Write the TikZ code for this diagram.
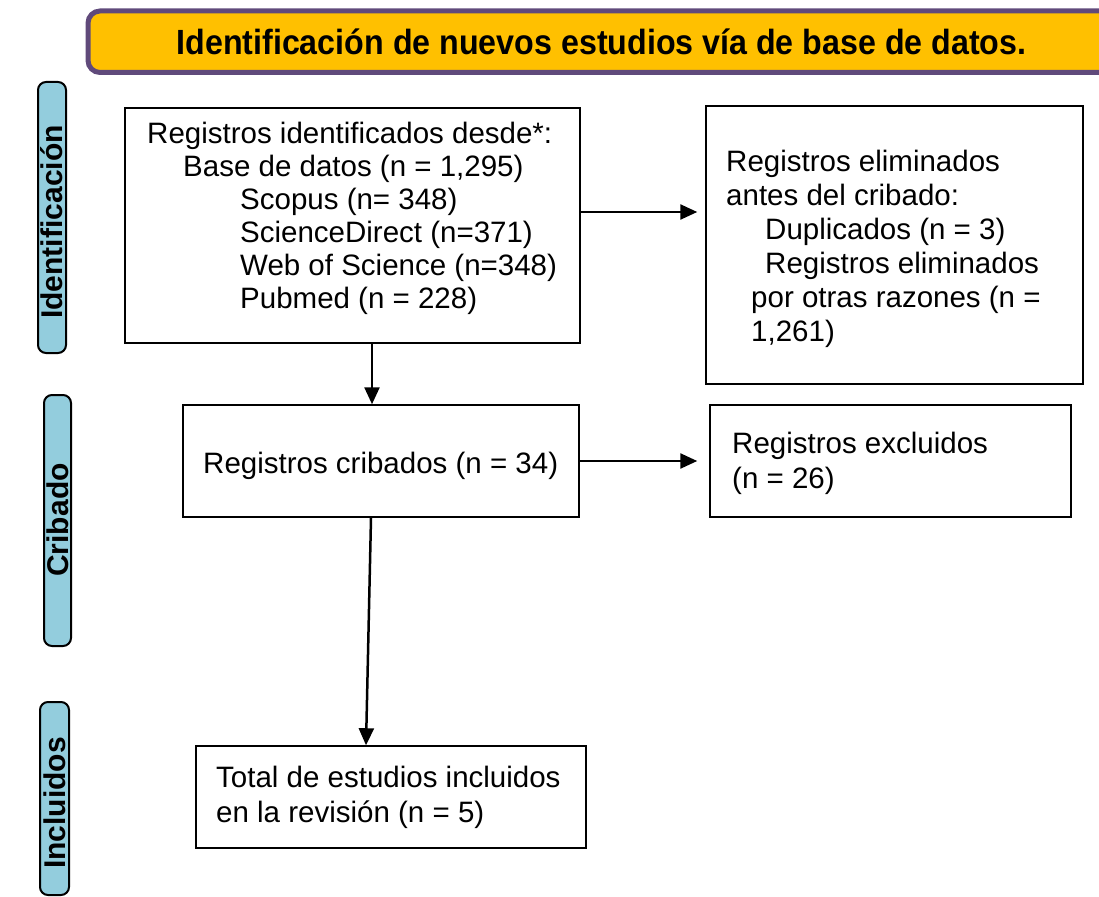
\documentclass[tikz,border=0pt]{standalone}
\usepackage{fontspec}
\setmainfont{Liberation Sans}
\usetikzlibrary{arrows.meta}
\definecolor{hdrfill}{HTML}{FFC000}
\definecolor{hdrline}{HTML}{604A7B}
\definecolor{sidefill}{HTML}{93CDDD}
\tikzset{
  flowbox/.style={draw=black, line width=1.5pt, rectangle, inner sep=0pt, fill=white},
  boxtext/.style={anchor=north west, inner sep=0pt, align=left, font=\fontsize{29.5}{33}\selectfont},
  sidebox/.style={draw=black, line width=2pt, fill=sidefill, rounded corners=8pt, inner sep=0pt},
  sidetext/.style={rotate=90, font=\bfseries\fontsize{30}{30}\selectfont, inner sep=0pt},
  arr/.style={line width=2.5pt, -{Triangle[length=17pt,width=15pt]}},
}
\begin{document}
\begin{tikzpicture}[x=1pt,y=-1pt]
\useasboundingbox (0,0) rectangle (1099,896);
% header
\node[draw=hdrline, line width=5pt, fill=hdrfill, rounded corners=12pt,
      minimum width=1027pt, minimum height=61.5pt, inner sep=0pt] (hdr) at (601.5,41.75)
  {\bfseries\fontsize{35}{35}\selectfont\scalebox{0.92}[1]{Identificación de nuevos estudios vía de base de datos.}};
% side labels
\node[sidebox, minimum width=28pt, minimum height=271pt] (s1) at (52,217.5) {};
\node[sidetext] (s1t) at (52,222) {Identificación};
\node[sidebox, minimum width=27pt, minimum height=251pt] (s2) at (57.5,520.5) {};
\node[sidetext] (s2t) at (57.5,520) {Cribado};
\node[sidebox, minimum width=29pt, minimum height=193pt] (s3) at (54.5,798.5) {};
\node[sidetext] (s3t) at (54.5,803) {Incluidos};
% boxes
\node[flowbox, minimum width=455pt, minimum height=235pt] (b1) at (352.5,225.5) {};
\node[boxtext] (b1t) at (147,122) {Registros identificados desde*:\\
\hspace*{36pt}Base de datos (n = 1,295)\\
\hspace*{93pt}Scopus (n= 348)\\
\hspace*{93pt}ScienceDirect (n=371)\\
\hspace*{93pt}Web of Science (n=348)\\
\hspace*{93pt}Pubmed (n = 228)};
\node[flowbox, minimum width=377pt, minimum height=278pt] (b2) at (894.5,245) {};
\node[boxtext, font=\fontsize{29.5}{34}\selectfont] (b2t) at (726,149.5) {Registros eliminados\\
antes del cribado:\\
\hspace*{39pt}Duplicados (n = 3)\\
\hspace*{39pt}Registros eliminados\\
\hspace*{25pt}por otras razones (n =\\
\hspace*{25pt}1,261)};
\node[flowbox, minimum width=396pt, minimum height=112pt] (b3) at (381,461) {};
\node[boxtext] (b3t) at (203,451.5) {Registros cribados (n = 34)};
\node[flowbox, minimum width=361pt, minimum height=112pt] (b4) at (890.5,461) {};
\node[boxtext, font=\fontsize{29.5}{35}\selectfont] (b4t) at (732,432) {Registros excluidos\\(n = 26)};
\node[flowbox, minimum width=390pt, minimum height=102pt] (b5) at (391,797) {};
\node[boxtext, font=\fontsize{29.5}{35}\selectfont] (b5t) at (216,766) {Total de estudios incluidos\\en la revisión (n = 5)};
% connectors
\coordinate (a1) at ([yshift=13.5pt]b1.east);
\draw[arr, shorten >=8pt] (a1) -- (a1 -| b2.west);
\coordinate (a2) at ([xshift=19.5pt]b1.south);
\draw[arr] (a2) -- (a2 |- b3.north);
\draw[arr, shorten >=12pt] (b3.east) -- (b4.west);
\draw[arr] ([xshift=-10pt]b3.south) -- ([xshift=-25pt]b5.north);
\end{tikzpicture}
\end{document}
